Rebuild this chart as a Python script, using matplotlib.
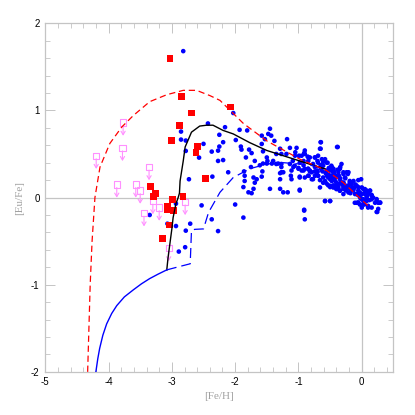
import matplotlib
matplotlib.use("Agg")
import matplotlib.pyplot as plt
from matplotlib.ticker import MultipleLocator
from matplotlib.transforms import offset_copy

plt.rcParams['axes.unicode_minus'] = False

# ---------------- data ----------------
# field stars (blue dots): [Fe/H], [Eu/Fe]
blue_x = [-2.82, -2.855, -2.855, -2.78, -2.78, -2.50, -2.57, -2.73, -2.43, -2.53,
          -2.935, -2.36, -2.11, -2.27, -3.35, -3.07, -2.935, -2.71, -2.78, -2.37,
          -2.27, -2.79, -2.89, -2.16, -2.03, -2.25, -1.93, -1.81, -1.477, -1.58,
          -1.99, -2.37, -2.27, -2.19, -2.25, -2.19,
          -1.91, -1.90, -1.78, -1.83, -1.74, -1.69, -1.75, -1.86, -1.85, -1.85,
          -1.71, -1.66, -1.69, -1.71, -1.87, -1.79, -1.74, -1.53, -1.45,
          -1.58, -1.56, -1.50, -1.56, -1.50, -1.61, -1.57, -1.58, -1.45, -1.29,
          -1.24, -1.17, -0.98, -1.27, -1.27, -1.19, -1.18, -1.29, -1.135, -1.055,
          -1.135, -1.27, -1.11, -0.98, -1.35, -1.40, -1.35, -0.95, -0.90, -0.92,
          -0.82, -0.92, -0.85, -0.77, -0.82, -0.92, -0.74, -0.79, -0.90, -1.87,
          -2.00,
          -1.43, -1.38, -1.27, -1.03, -0.90, -0.855, -0.98, -0.845, -0.74, -0.69,
          -0.645, -0.66, -0.63, -0.58, -0.69, -0.555, -0.61, -0.74, -0.845, -0.95,
          -1.06, -1.32, -1.42, -1.49, -1.24, -1.29, -1.11, -1.00, -0.79, -0.555,
          -0.50, -0.48, -0.69, -0.61, -0.90, -0.845, -1.29,
          -0.38, -0.54, -0.475, -0.555, -0.45, -0.34, -0.32, -0.29, -0.24, -0.22,
          -0.265, -0.34, -0.42, -0.475, -0.53, -0.555, -0.50, -0.42, -0.37, -0.29,
          -0.29, -0.25, -0.19, -0.16, -0.11, -0.055, -0.055, 0.00, -0.08, -0.135,
          0.05, 0.10, 0.077, 0.025, -0.03, -0.08, -0.03, 0.04, 0.10, 0.156,
          0.21, 0.26, 0.156, 0.13, 0.26, -0.50, -0.58, -0.01,
          -0.48, -0.45, -0.40, -0.345, -0.13, -0.50, -0.45, -0.40, -0.345, -0.29,
          -0.24, -0.19, 0.077, 0.156, 0.077, 0.025, -0.055, -0.11, 0.235, 0.29,
          0.235, 0.00, -0.91,
          -0.60, -0.65, -0.52, -0.57, -0.62, -0.44, -0.36, -0.70, -0.66, -0.47,
          -0.40, -0.31, -0.20, -0.15, -0.06, 0.02, 0.08, 0.18, 0.12, -0.02,
          -0.10, -0.18, -0.26, -0.33, -0.38, -0.44, -0.52, -0.58, -0.64, -0.71,
          -0.65, -0.65, -0.39, -1.05, -0.91, -0.99, -0.84, -0.74, -0.70, -0.61,
          -0.63, -1.08, -1.00, -0.90, -0.82, -0.74, -0.69, -0.98, -0.84, -0.77,
          -0.48, -0.45, -0.345, -0.37, -0.29, -0.21, -0.55, -0.50, -0.42, -0.61,
          -0.53, -0.45, -0.37, -0.29, -0.19, -0.055, -0.24, -0.13, -0.08, 0.00,
          0.05, 0.13, -0.107, -0.03, 0.05, 0.156, 0.235, 0.29, 0.00, 0.077,
          0.10, 0.024, -0.055, 0.245, -0.98, -0.58, -0.50, -0.91, -0.29, -0.21,
          -0.345, -0.40, -0.66, -1.12, -1.09]
blue_y = [1.68, 0.757, 0.665, 0.654, 0.535, 0.616, 0.458, 0.21, 0.85, -0.09,
          -0.07, 0.24, 0.29, 0.42, -0.20, -0.30, -0.327, -0.30, -0.38, -0.25,
          -0.385, -0.57, -0.62, 0.807, 0.97, 0.72, 0.777, 0.77, 0.73, 0.71,
          0.66, 0.527, 0.538, 0.635, 0.585, 0.43,
          0.585, 0.55, 0.55, 0.46, 0.51, 0.42, 0.35, 0.30, 0.25, 0.19,
          0.23, 0.21, 0.17, 0.10, 0.12, 0.06, 0.05, 0.67, 0.79,
          0.615, 0.53, 0.46, 0.39, 0.39, 0.37, 0.30, 0.24, 0.10, 0.10,
          0.06, 0.06, 0.08, 0.29, 0.35, 0.50, 0.67, 0.56, 0.57, 0.48,
          0.385, 0.385, 0.21, 0.23, 0.385, 0.42, 0.50, 0.48, 0.54, 0.42,
          0.46, 0.37, 0.33, 0.385, 0.31, 0.31, 0.25, 0.21, -0.25, -0.23,
          -0.08,
          0.71, 0.65, 0.50, 0.57, 0.50, 0.47, 0.40, 0.42, 0.46, 0.48,
          0.635, 0.56, 0.44, 0.44, 0.40, 0.40, 0.365, 0.35, 0.33, 0.31,
          0.365, 0.39, 0.39, 0.42, 0.29, 0.28, 0.31, 0.34, 0.29, 0.27,
          0.31, 0.25, 0.25, 0.23, 0.23, 0.25, 0.21,
          0.58, 0.40, 0.35, 0.31, 0.29, 0.35, 0.385, 0.29, 0.29, 0.27,
          0.23, 0.22, 0.23, 0.19, 0.23, 0.16, 0.12, 0.135, 0.12, 0.17,
          0.12, 0.08, 0.19, 0.155, 0.12, 0.12, 0.08, 0.04, 0.04, 0.08,
          0.06, 0.04, 0.00, -0.02, 0.008, -0.06, -0.08, -0.08, -0.115, -0.115,
          -0.06, -0.06, -0.02, 0.08, -0.13, -0.04, -0.04, 0.21,
          0.365, 0.33, 0.25, 0.21, 0.19, 0.135, 0.115, 0.10, 0.08, 0.10,
          0.135, 0.10, 0.08, 0.03, -0.02, -0.04, -0.06, -0.06, -0.165, -0.06,
          -0.04, -0.115, -0.15,
          0.42, 0.37, 0.34, 0.28, 0.30, 0.27, 0.25, 0.31, 0.20, 0.21,
          0.17, 0.15, 0.14, 0.11, 0.03, 0.10, 0.02, 0.00, -0.03, -0.01,
          0.15, 0.05, 0.22, 0.18, 0.32, 0.30, 0.26, 0.19, 0.33, 0.28,
          0.635, 0.56, 0.58, 0.52, 0.51, 0.48, 0.46, 0.46, 0.42, 0.41,
          0.37, 0.35, 0.33, 0.33, 0.30, 0.30, 0.25, 0.24, 0.25, 0.21,
          0.35, 0.33, 0.33, 0.29, 0.27, 0.29, 0.25, 0.21, 0.19, 0.17,
          0.14, 0.14, 0.155, 0.17, 0.17, 0.20, 0.116, 0.097, 0.135, 0.116,
          0.097, 0.078, 0.04, 0.058, 0.04, 0.02, -0.018, -0.057, -0.018, -0.038,
          -0.095, -0.076, -0.057, -0.165, 0.09, -0.04, -0.04, -0.14, 0.04, 0.058,
          0.078, 0.097, 0.116, 0.25, 0.42]

# r-process enhanced stars (red squares)
red_x = [-3.03, -2.845, -2.69, -2.885, -3.00, -2.60, -2.62, -2.47, -2.07, -3.335,
         -3.256, -3.29, -2.99, -2.825, -3.07, -3.07, -2.97, -3.04, -3.145]
red_y = [1.60, 1.155, 0.97, 0.83, 0.65, 0.585, 0.515, 0.215, 1.04, 0.127,
         0.043, 0.016, -0.02, 0.016, -0.10, -0.14, -0.145, -0.315, -0.47]

# upper limits (pink open squares with arrows)
lim_x = [-3.77, -3.78, -4.195, -3.36, -3.87, -3.57, -3.50, -3.30, -3.20, -3.44, -2.79, -3.05]
lim_y = [0.86, 0.57, 0.48, 0.35, 0.15, 0.15, 0.08, -0.04, -0.115, -0.18, -0.05, -0.58]

# model curves
red_model_x = [-4.33, -4.29, -4.26, -4.215, -4.135, -3.98, -3.79, -3.61, -3.35, -3.08,
               -2.82, -2.61, -2.40, -2.24, -1.87, -1.50, -0.976, -0.555, -0.29, 0.13]
red_model_y = [-2.0, -1.0, -0.5, 0.0, 0.35, 0.62, 0.81, 0.94, 1.10, 1.18,
               1.23, 1.23, 1.17, 1.115, 0.85, 0.65, 0.44, 0.31, 0.17, -0.115]

low_model_x = [-4.20, -4.17, -4.14, -4.09, -4.03, -3.95, -3.87, -3.75, -3.61, -3.48,
               -3.35, -3.22, -3.08]
low_model_y = [-2.0, -1.85, -1.73, -1.58, -1.45, -1.33, -1.24, -1.14, -1.06, -0.99,
               -0.93, -0.88, -0.83]

black_model_x = [-3.08, -3.06, -3.00, -2.98, -2.935, -2.90, -2.88, -2.87, -2.82, -2.79,
                 -2.69, -2.56, -2.45, -2.35, -2.19, -2.03, -1.77, -1.50, -1.24, -0.98,
                 -0.77, -0.58]
black_model_y = [-0.83, -0.69, -0.36, -0.23, -0.07, 0.00, 0.05, 0.19, 0.42, 0.58,
                 0.75, 0.82, 0.83, 0.83, 0.77, 0.73, 0.63, 0.54, 0.48, 0.42,
                 0.37, 0.33]

blue_model_x = [-3.08, -2.87, -2.71, -2.69, -2.64, -2.50, -2.42, -2.24, -2.03, -1.77,
                -1.50, -1.24, -0.98, -0.77, -0.61, -0.69]
blue_model_y = [-0.83, -0.79, -0.76, -0.38, -0.365, -0.36, -0.17, 0.06, 0.23, 0.33,
                0.385, 0.40, 0.385, 0.365, 0.33, 0.28]

x_ticks = [-5, -4, -3, -2, -1, 0]
y_ticks = [-2, -1, 0, 1, 2]

# ---------------- plot ----------------
fig = plt.figure(figsize=(4.15, 4.15), dpi=100)
ax = fig.add_axes([0.109, 0.104, 0.839, 0.840])

grey = '#c4c4c4'
pink = '#ff90ff'

ax.axhline(0, color=grey, lw=0.9, zorder=1)
ax.axvline(0, color=grey, lw=0.9, zorder=1)

ax.scatter(blue_x, blue_y, s=11, color='#0000ff', edgecolors='none', zorder=2)

# upper limits: open square + downward arrow
ax.scatter(lim_x, lim_y, s=20, marker='s', facecolors='none', edgecolors=pink,
           linewidths=0.8, zorder=3)
start_tr = offset_copy(ax.transData, fig=fig, x=0, y=-2.2, units='points')
end_tr = offset_copy(ax.transData, fig=fig, x=0, y=-9.5, units='points')
for lx, ly in zip(lim_x, lim_y):
    ax.annotate('', xy=(lx, ly), xycoords=end_tr, xytext=(lx, ly), textcoords=start_tr,
                arrowprops=dict(arrowstyle='->,head_length=0.25,head_width=0.15',
                                color=pink, lw=0.8, shrinkA=0, shrinkB=0), zorder=3)

ax.scatter(red_x, red_y, s=24, marker='s', color='#ff0000', edgecolors='none', zorder=4)

ax.plot(black_model_x, black_model_y, color='black', lw=1.0, zorder=5)
ax.plot(low_model_x, low_model_y, color='#0000ff', lw=1.0, zorder=6)
ax.plot(blue_model_x, blue_model_y, color='#0000ff', lw=0.9, dashes=(8, 4), zorder=6)
ax.plot(red_model_x, red_model_y, color='#ff0000', lw=0.9, dashes=(5, 3), zorder=6)

ax.set_xlim(-5, 0.5)
ax.set_ylim(-2, 2)
ax.set_xticks(x_ticks)
ax.set_yticks(y_ticks)
ax.xaxis.set_minor_locator(MultipleLocator(0.2))
ax.yaxis.set_minor_locator(MultipleLocator(0.2))
ax.tick_params(which='both', direction='in', top=True, right=True, color=grey,
               labelsize=7, labelcolor='black')
ax.tick_params(which='major', length=7, width=0.7, pad=4)
ax.tick_params(which='minor', length=3.5, width=0.6)
for lab in ax.get_xticklabels() + ax.get_yticklabels():
    lab.set_family('Liberation Sans')
for sp in ax.spines.values():
    sp.set_color(grey)
    sp.set_linewidth(0.9)

ax.set_xlabel('[Fe/H]', family='Liberation Serif', color='#a0a0a0', fontsize=8, labelpad=3)
ax.set_ylabel('[Eu/Fe]', family='Liberation Serif', color='#a0a0a0', fontsize=8, labelpad=5)

fig.savefig('out.png', dpi=100)
